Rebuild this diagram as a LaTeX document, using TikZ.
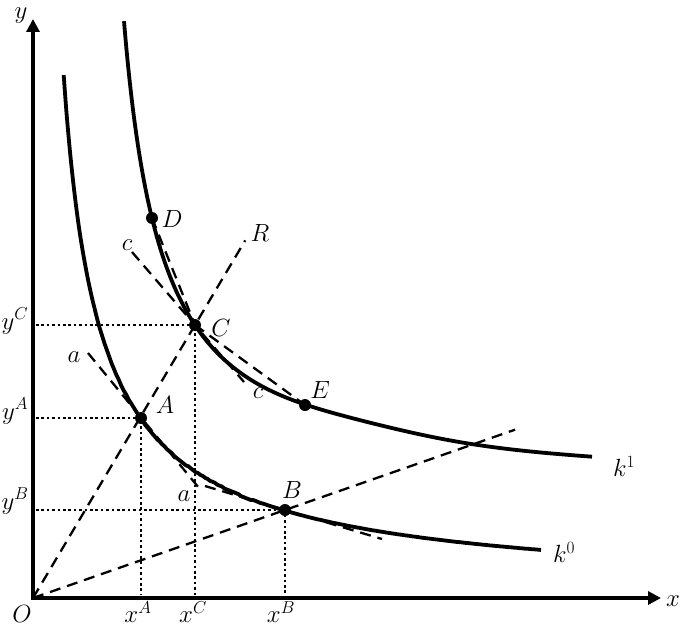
\documentclass[tikz,border=0pt]{standalone}
\usetikzlibrary{arrows.meta,calc}
\begin{document}
\begin{tikzpicture}[x=1pt,y=-1pt,
  curve/.style={line width=3.8pt},
  axis/.style={line width=3.6pt,{Triangle[length=13pt,width=13pt]}-{Triangle[length=13pt,width=13pt]}},
  dsh/.style={line width=2.3pt,dash pattern=on 11pt off 7pt},
  dotl/.style={line width=2.6pt,dash pattern=on 2.6pt off 2.8pt},
  pt/.style={circle,fill=black,inner sep=0pt,minimum size=12pt},
  lbl/.style={inner sep=0pt,font=\fontsize{23}{26}\selectfont}]
\useasboundingbox (0,0) rectangle (685,626);
% axes
\coordinate (O) at (33,598);
\coordinate (Ytop) at (33,19);
\coordinate (Xend) at (661,598);
\draw[axis,line join=miter] (Ytop) -- (O) -- (Xend);
% points
\coordinate (A) at (141,418);
\coordinate (B) at (285,510);
\coordinate (C) at (195,325);
\coordinate (D) at (152,218);
\coordinate (E) at (305,405);
% isoquant k0
\draw[curve] plot[domain=63.7:541,samples=200,smooth] (\x,{598-9611*exp(-0.85*ln(\x-33))});
% isoquant k1
\draw[curve] plot[domain=124:592,samples=220,smooth] (\x,{493-184/((\x-85)/100)-6*exp(-((\x-350)/100)^2)});
% rays
\coordinate (R) at ($(O)!1.31!(C)$);
\coordinate (Rb) at ($(O)!1.913!(B)$);
\draw[dsh] (O) -- (R);
\draw[dsh] (O) -- (Rb);
% tangents
\coordinate (a1) at (88,353);
\coordinate (a2) at (199,488);
\draw[dsh] (a1) -- (a2);
\coordinate (b1) at (205,486);
\coordinate (b2) at (382,539);
\draw[dsh] (b1) -- (b2);
\coordinate (c1) at (132,252);
\coordinate (c2) at (244,382);
\draw[dsh] (c1) -- (c2);
% chords
\draw[dsh] (D) -- (C);
\draw[dsh] (C) -- (E);
% dotted projections
\draw[dotl] ($(O |- C)+(3,0)$) -- (C) -- ($(C |- O)+(0,-3)$);
\draw[dotl] ($(O |- A)+(3,0)$) -- (A) -- ($(A |- O)+(0,-3)$);
\draw[dotl] ($(O |- B)+(3,0)$) -- (B) -- ($(B |- O)+(0,-3)$);
% dots
\foreach \p in {A,B,C,D,E} \node[pt] (dot\p) at (\p) {};
% labels
\node[lbl] (ly) at (21,16) {$y$};
\node[lbl] (lx) at (673,601) {$x$};
\node[lbl] (lO) at (22,614) {$O$};
\node[lbl] (lyC) at (15,321) {$y^C$};
\node[lbl] (lyA) at (15,411) {$y^A$};
\node[lbl] (lyB) at (15,501) {$y^B$};
\node[lbl] (lxA) at (138,612) {$x^A$};
\node[lbl] (lxC) at (193,612) {$x^C$};
\node[lbl] (lxB) at (281,612) {$x^B$};
\node[lbl] (lA) at (165,405) {$A$};
\node[lbl] (lB) at (292,490) {$B$};
\node[lbl] (lC) at (221,328) {$C$};
\node[lbl] (lD) at (172,219) {$D$};
\node[lbl] (lE) at (320,390) {$E$};
\node[lbl] (lR) at (260,233) {$R$};
\node[lbl] (lc1) at (127,245) {$c$};
\node[lbl] (lc2) at (258,393) {$c$};
\node[lbl] (la1) at (74,357) {$a$};
\node[lbl] (la2) at (184,496) {$a$};
\node[lbl] (lk1) at (624,466) {$k^1$};
\node[lbl] (lk0) at (564,552) {$k^0$};
\end{tikzpicture}
\end{document}
